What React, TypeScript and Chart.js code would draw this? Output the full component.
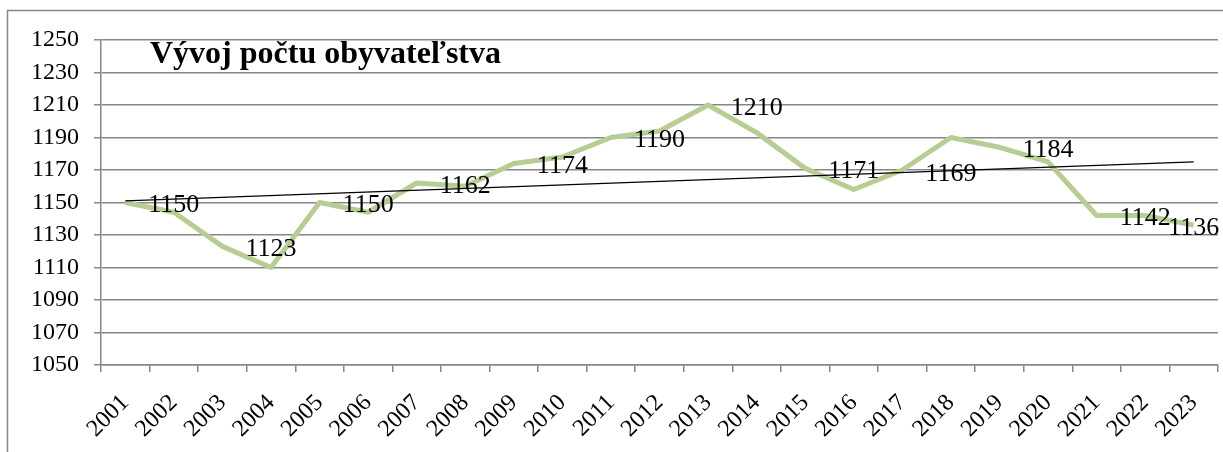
import React, { useEffect, useRef } from "react";
import { Chart, registerables } from "chart.js";

Chart.register(...registerables);

const years = [
  "2001", "2002", "2003", "2004", "2005", "2006", "2007", "2008", "2009", "2010", "2011", "2012",
  "2013", "2014", "2015", "2016", "2017", "2018", "2019", "2020", "2021", "2022", "2023",
];

const population = [
  1150, 1144, 1123, 1110, 1150, 1144, 1162, 1160, 1174, 1178, 1190, 1194,
  1210, 1193, 1171, 1158, 1170, 1190, 1184, 1175, 1142, 1142, 1136,
];

const labelValues: (number | null)[] = [
  null, 1150, null, 1123, null, 1150, null, 1162, null, 1174, null, 1190,
  null, 1210, null, 1171, null, 1169, null, 1184, null, 1142, 1136,
];

const trendValues: (number | null)[] = [
  1151, null, null, null, null, null, null, null, null, null, null, null,
  null, null, null, null, null, null, null, null, null, null, 1175,
];

const yMin = 1050;
const yMax = 1250;
const yStep = 20;

const titleText = "Vývoj počtu obyvateľstva";

const SERIF = "'Liberation Serif', 'Times New Roman', serif";
const GRID = "#878787";

const framePlugin = {
  id: "frame",
  beforeDraw(chart: any) {
    const ctx = chart.ctx;
    ctx.save();
    ctx.strokeStyle = GRID;
    ctx.lineWidth = 1.5;
    ctx.beginPath();
    ctx.moveTo(7.5, chart.height);
    ctx.lineTo(7.5, 10.5);
    ctx.lineTo(chart.width, 10.5);
    ctx.stroke();
    ctx.restore();
  },
};

const textPlugin = {
  id: "texts",
  afterDatasetsDraw(chart: any) {
    const ctx = chart.ctx;
    ctx.save();
    const meta = chart.getDatasetMeta(2);
    ctx.fillStyle = "#000";
    ctx.font = `26px ${SERIF}`;
    ctx.textAlign = "center";
    ctx.textBaseline = "middle";
    meta.data.forEach((el: any, i: number) => {
      const v = labelValues[i];
      if (v == null) return;
      ctx.fillText(String(v), el.x, el.y + 3);
    });
    ctx.font = `bold 32px ${SERIF}`;
    ctx.textAlign = "left";
    ctx.textBaseline = "alphabetic";
    ctx.fillText(titleText, chart.chartArea.left + 49, 63);
    ctx.restore();
  },
};

export default function App() {
  const ref = useRef<HTMLCanvasElement | null>(null);

  useEffect(() => {
    document.body.style.margin = "0";
    const canvas = ref.current;
    if (!canvas) return;
    const chart = new Chart(canvas, {
      type: "line",
      data: {
        labels: years,
        datasets: [
          {
            label: "Trend",
            data: trendValues,
            borderColor: "#000",
            borderWidth: 1.5,
            pointRadius: 0,
            spanGaps: true,
            order: 0,
          },
          {
            label: "Obyvatelia",
            data: population,
            borderColor: "#b7cd94",
            borderWidth: 5,
            pointRadius: 0,
            tension: 0,
            borderJoinStyle: "round",
            order: 1,
          },
          {
            label: "Popisy",
            data: labelValues,
            showLine: false,
            pointRadius: 0,
            order: 2,
          },
        ],
      },
      options: {
        responsive: false,
        animation: false,
        devicePixelRatio: 1,
        layout: { padding: { top: 40, right: 5, left: 0, bottom: 0 } },
        plugins: {
          legend: { display: false },
          tooltip: { enabled: false },
          title: { display: false },
        },
        scales: {
          x: {
            type: "category",
            offset: true,
            afterFit: (scale: any) => {
              scale.height = 87;
              scale.paddingLeft = 0;
              scale.paddingRight = 0;
            },
            grid: {
              offset: true,
              drawOnChartArea: false,
              drawTicks: true,
              tickLength: 7,
              color: GRID,
              lineWidth: 1.5,
            },
            border: { color: GRID, width: 1.5 },
            ticks: {
              autoSkip: false,
              maxRotation: 45,
              minRotation: 45,
              padding: 17,
              color: "#000",
              font: { family: SERIF, size: 24 },
            },
          },
          y: {
            min: yMin,
            max: yMax,
            afterFit: (scale: any) => {
              scale.width = 101;
            },
            grid: {
              color: GRID,
              lineWidth: 1.5,
              tickLength: 7,
              drawTicks: true,
            },
            border: { color: GRID, width: 1.5 },
            ticks: {
              stepSize: yStep,
              autoSkip: false,
              padding: 15,
              color: "#000",
              font: { family: SERIF, size: 24 },
              callback: (v: any) => String(v),
            },
          },
        },
      },
      plugins: [framePlugin, textPlugin],
    });
    return () => chart.destroy();
  }, []);

  return <canvas ref={ref} width={1223} height={452} style={{ display: "block" }} />;
}
